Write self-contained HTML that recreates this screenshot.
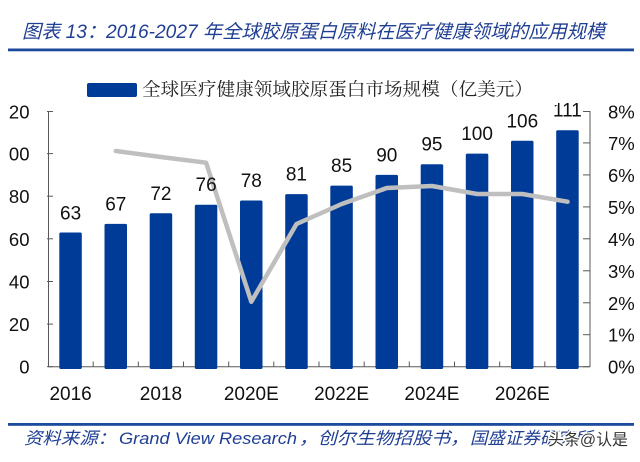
<!DOCTYPE html>
<html><head><meta charset="utf-8"><style>
html,body{margin:0;padding:0;background:#fff;}
svg{display:block;}
</style></head><body>
<svg width="640" height="462" viewBox="0 0 640 462" xmlns="http://www.w3.org/2000/svg">
<rect width="640" height="462" fill="#fff"/>
<!-- Title -->
<text x="22" y="38" font-family="'Liberation Sans','Noto Sans CJK SC',sans-serif" font-size="19" font-style="italic" fill="#1f3f94" textLength="583" lengthAdjust="spacingAndGlyphs">图表 13：2016-2027 年全球胶原蛋白原料在医疗健康领域的应用规模</text>
<rect x="8" y="48.5" width="626" height="2.8" fill="#1c4a9c"/>

<!-- Axes -->
<g stroke="#595959" stroke-width="1" fill="none">
<line x1="48.5" y1="111" x2="48.5" y2="367"/>
<line x1="590" y1="111" x2="590" y2="367"/>
<line x1="48" y1="366.7" x2="590" y2="366.7"/>
<!-- left ticks -->
<line x1="47" y1="366.7" x2="53" y2="366.7"/>
<line x1="47" y1="324.1" x2="53" y2="324.1"/>
<line x1="47" y1="281.5" x2="53" y2="281.5"/>
<line x1="47" y1="238.8" x2="53" y2="238.8"/>
<line x1="47" y1="196.2" x2="53" y2="196.2"/>
<line x1="47" y1="153.6" x2="53" y2="153.6"/>
<line x1="47" y1="111.5" x2="53" y2="111.5"/>
<!-- right ticks -->
<line x1="583" y1="366.7" x2="590" y2="366.7"/>
<line x1="583" y1="334.7" x2="590" y2="334.7"/>
<line x1="583" y1="302.8" x2="590" y2="302.8"/>
<line x1="583" y1="270.8" x2="590" y2="270.8"/>
<line x1="583" y1="238.8" x2="590" y2="238.8"/>
<line x1="583" y1="206.9" x2="590" y2="206.9"/>
<line x1="583" y1="174.9" x2="590" y2="174.9"/>
<line x1="583" y1="142.9" x2="590" y2="142.9"/>
<line x1="583" y1="111.5" x2="590" y2="111.5"/>
<!-- bottom ticks -->
<line x1="93.2" y1="361.5" x2="93.2" y2="366.7"/>
<line x1="138.3" y1="361.5" x2="138.3" y2="366.7"/>
<line x1="183.5" y1="361.5" x2="183.5" y2="366.7"/>
<line x1="228.7" y1="361.5" x2="228.7" y2="366.7"/>
<line x1="273.8" y1="361.5" x2="273.8" y2="366.7"/>
<line x1="319" y1="361.5" x2="319" y2="366.7"/>
<line x1="364.2" y1="361.5" x2="364.2" y2="366.7"/>
<line x1="409.3" y1="361.5" x2="409.3" y2="366.7"/>
<line x1="454.5" y1="361.5" x2="454.5" y2="366.7"/>
<line x1="499.7" y1="361.5" x2="499.7" y2="366.7"/>
<line x1="544.8" y1="361.5" x2="544.8" y2="366.7"/>
</g>

<!-- Bars -->
<g fill="#003c97">
<rect x="59.3" y="232.5" width="22.5" height="136.5" rx="1.5"/>
<rect x="104.5" y="223.9" width="22.5" height="145.1" rx="1.5"/>
<rect x="149.7" y="213.3" width="22.5" height="155.7" rx="1.5"/>
<rect x="194.8" y="204.8" width="22.5" height="164.2" rx="1.5"/>
<rect x="240" y="200.5" width="22.5" height="168.5" rx="1.5"/>
<rect x="285.2" y="194.1" width="22.5" height="174.9" rx="1.5"/>
<rect x="330.3" y="185.6" width="22.5" height="183.4" rx="1.5"/>
<rect x="375.5" y="174.9" width="22.5" height="194.1" rx="1.5"/>
<rect x="420.7" y="164.3" width="22.5" height="204.7" rx="1.5"/>
<rect x="465.8" y="153.6" width="22.5" height="215.4" rx="1.5"/>
<rect x="511" y="140.8" width="22.5" height="228.2" rx="1.5"/>
<rect x="556.2" y="130.2" width="22.5" height="238.8" rx="1.5"/>
</g>

<!-- Line -->
<polyline fill="none" stroke="#bfbfbf" stroke-width="4.5" stroke-linejoin="round" stroke-linecap="round"
points="115.8,151 161,157 206.1,162.7 251.3,301.7 296.5,224 341.7,204 386.8,188 432,186 477.2,194 522.3,194 567.5,201.7"/>

<!-- Data labels -->
<g font-family="'Liberation Sans',sans-serif" font-size="19" fill="#111" text-anchor="middle">
<text x="70.6" y="219.3">63</text>
<text x="115.8" y="210.6">67</text>
<text x="160.9" y="200">72</text>
<text x="206.1" y="191">76</text>
<text x="251.3" y="186.8">78</text>
<text x="296.4" y="180.5">81</text>
<text x="341.6" y="172">85</text>
<text x="386.8" y="161.4">90</text>
<text x="431.9" y="150.5">95</text>
<text x="477.1" y="140">100</text>
<text x="522.3" y="127.3">106</text>
<text x="567.4" y="116.5">111</text>
</g>

<!-- Legend background (clips label top) -->
<rect x="80" y="72" width="478" height="33" fill="#fff"/>
<rect x="87" y="83" width="50" height="14" rx="2" fill="#003c97"/>
<text x="142" y="95.5" font-family="'Liberation Serif','Noto Serif CJK SC',serif" font-size="18" fill="#222" textLength="391" lengthAdjust="spacingAndGlyphs">全球医疗健康领域胶原蛋白市场规模（亿美元）</text>

<!-- Left labels -->
<g font-family="'Liberation Sans',sans-serif" font-size="18.5" fill="#111" text-anchor="end">
<text x="29.5" y="373.7">0</text>
<text x="29.5" y="331.1">20</text>
<text x="29.5" y="288.5">40</text>
<text x="29.5" y="245.8">60</text>
<text x="29.5" y="203.2">80</text>
<text x="29.5" y="160.6">00</text>
<text x="29.5" y="118.3">20</text>
</g>
<!-- Right labels -->
<g font-family="'Liberation Sans',sans-serif" font-size="18.5" fill="#111">
<text x="608" y="373.7">0%</text>
<text x="608" y="341.7">1%</text>
<text x="608" y="309.8">2%</text>
<text x="608" y="277.8">3%</text>
<text x="608" y="245.8">4%</text>
<text x="608" y="213.9">5%</text>
<text x="608" y="181.9">6%</text>
<text x="608" y="149.9">7%</text>
<text x="608" y="118.3">8%</text>
</g>
<!-- X labels -->
<g font-family="'Liberation Sans',sans-serif" font-size="19" fill="#111" text-anchor="middle">
<text x="70.6" y="400">2016</text>
<text x="160.9" y="400">2018</text>
<text x="251.3" y="400">2020E</text>
<text x="341.6" y="400">2022E</text>
<text x="431.9" y="400">2024E</text>
<text x="522.3" y="400">2026E</text>
</g>

<!-- Bottom rule and source -->
<rect x="8" y="423" width="626" height="2.8" fill="#1c4a9c"/>
<g font-family="'Liberation Sans','Noto Sans CJK SC',sans-serif" font-size="17" font-style="italic" fill="#1f3f94">
<text x="24" y="444" textLength="92" lengthAdjust="spacingAndGlyphs">资料来源：</text>
<text x="119" y="444" textLength="178" lengthAdjust="spacingAndGlyphs">Grand View Research</text>
<text x="299" y="444" textLength="170" lengthAdjust="spacingAndGlyphs">，创尔生物招股书，</text>
<text x="470" y="444" textLength="122" lengthAdjust="spacingAndGlyphs">国盛证券研究所</text>
</g>
<text x="548" y="445" font-family="'Liberation Sans','Noto Sans CJK SC',sans-serif" font-size="16" fill="#333" stroke="#fff" stroke-width="2.5" paint-order="stroke" textLength="80" lengthAdjust="spacingAndGlyphs">头条@认是</text>
</svg>
</body></html>
